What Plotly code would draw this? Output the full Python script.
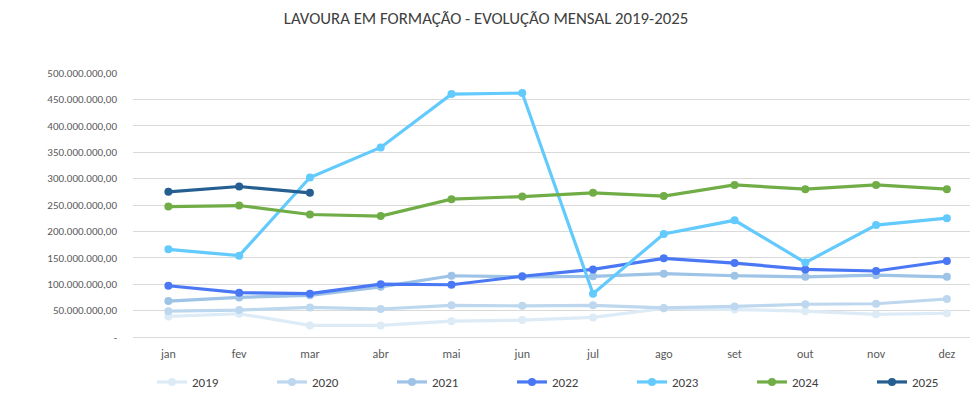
import plotly.graph_objects as go

# Data (values in R$)
meses = ["jan", "fev", "mar", "abr", "mai", "jun", "jul", "ago", "set", "out", "nov", "dez"]

v2019 = [39e6, 44e6, 22e6, 22e6, 30e6, 32e6, 37e6, 54e6, 52e6, 49e6, 43e6, 45e6]
v2020 = [49e6, 51e6, 56e6, 53e6, 60e6, 59e6, 60e6, 55e6, 58e6, 62e6, 63e6, 72e6]
v2021 = [68e6, 75e6, 79e6, 95e6, 116e6, 114e6, 115e6, 120e6, 116e6, 114e6, 117e6, 114e6]
v2022 = [97e6, 84e6, 82e6, 100e6, 99e6, 115e6, 128e6, 149e6, 140e6, 128e6, 125e6, 144e6]
v2023 = [166e6, 154e6, 302e6, 359e6, 460e6, 462e6, 82e6, 195e6, 221e6, 141e6, 212e6, 225e6]
v2024 = [247e6, 249e6, 232e6, 229e6, 261e6, 266e6, 273e6, 267e6, 288e6, 280e6, 288e6, 280e6]
v2025 = [275e6, 285e6, 273e6]

anos = ["2019", "2020", "2021", "2022", "2023", "2024", "2025"]
series = [v2019, v2020, v2021, v2022, v2023, v2024, v2025]
cores = ["#DDEBF7", "#BDD7EE", "#9DC3E6", "#4A78F5", "#62CAFD", "#70AD47", "#255E91"]

ytick_vals = [0, 50e6, 100e6, 150e6, 200e6, 250e6, 300e6, 350e6, 400e6, 450e6, 500e6]
ytick_text = ["-", "50.000.000,00", "100.000.000,00", "150.000.000,00", "200.000.000,00",
              "250.000.000,00", "300.000.000,00", "350.000.000,00", "400.000.000,00",
              "450.000.000,00", "500.000.000,00"]

FONT = "Carlito, Liberation Sans Narrow, Open Sans, sans-serif"

# the page body keeps an 8px browser margin, so the figure is sized to fit the window
W, H = 970, 398

fig = go.Figure()
for ano, vals, cor in zip(anos, series, cores):
    fig.add_trace(go.Scatter(x=meses[:len(vals)],
                             y=vals,
                             name=ano,
                             mode="lines+markers",
                             line=dict(color=cor, width=3.2),
                             marker=dict(color=cor, size=8),
                             hoverinfo="skip"))

fig.update_layout(
    width=W, height=H,
    margin=dict(l=125, r=0, t=65, b=69, autoexpand=False),
    paper_bgcolor="white", plot_bgcolor="white",
    font=dict(family=FONT, size=11, color="#595959"),
    title=dict(text="LAVOURA EM FORMAÇÃO - EVOLUÇÃO MENSAL 2019-2025",
               x=478 / W, xanchor="center", xref="container",
               y=1 - 10 / H, yanchor="middle", yref="container",
               font=dict(family=FONT, size=16.8, color="#404040")),
    legend=dict(orientation="h", x=144 / W, xanchor="left", xref="container",
                y=1 - 359 / H, yanchor="top", yref="container",
                entrywidth=75, font=dict(size=13, color="#404040"),
                itemclick=False),
    showlegend=True,
)

fig.update_xaxes(range=[-0.5, 11.44], showgrid=False, showline=False, automargin=False,
                 ticks="", tickfont=dict(size=12), ticklabelstandoff=8)
fig.update_yaxes(range=[0, 5e8], tickvals=ytick_vals, ticktext=ytick_text, automargin=False,
                 showgrid=True, gridcolor="#D9D9D9", gridwidth=1,
                 zeroline=True, zerolinecolor="#D9D9D9", zerolinewidth=1,
                 showline=False, ticks="", ticklabelstandoff=15)

fig.write_html("out.html")
